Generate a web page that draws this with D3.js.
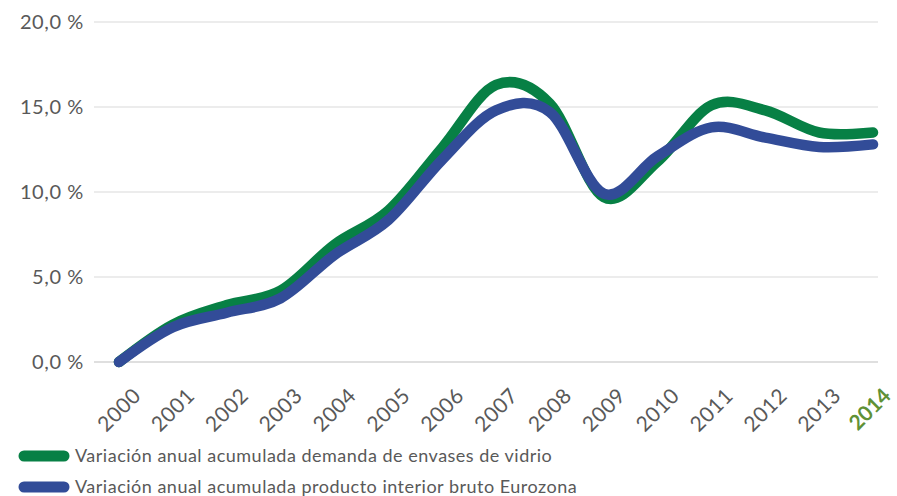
<!DOCTYPE html>
<html>
<head>
<meta charset="utf-8">
<script src="https://cdn.jsdelivr.net/npm/d3@7"></script>
<style>
  body { margin: 0; background: #fff; }
  text { font-family: Lato, "DejaVu Sans", sans-serif; fill: #595959; }
</style>
</head>
<body>
<script>
var width = 897,
    height = 496;

// data
var years = ["2000", "2001", "2002", "2003", "2004", "2005", "2006", "2007",
             "2008", "2009", "2010", "2011", "2012", "2013", "2014"];
var vidrio = [0, 2.2, 3.35, 4.2, 6.9, 8.9, 12.6, 16.3, 15.2, 9.7, 11.8, 15.1, 14.8, 13.5, 13.5];
var pib = [0, 2.05, 2.9, 3.75, 6.3, 8.35, 11.9, 14.8, 14.7, 9.9, 12.1, 13.8, 13.2, 12.65, 12.8];
var yTicks = [0, 5, 10, 15, 20];
var legendLabels = ["Variación anual acumulada demanda de envases de vidrio",
                    "Variación anual acumulada producto interior bruto Eurozona"];
var colors = ["#078045", "#324c98"];

var svg = d3.select("body").append("svg")
    .attr("width", width)
    .attr("height", height);

var x = d3.scalePoint()
    .domain(years)
    .range([119, 873]);

var y = d3.scaleLinear()
    .domain([0, 20])
    .range([362, 22]);

// gridlines
svg.append("g")
    .selectAll("line")
    .data(yTicks)
    .enter().append("line")
        .attr("x1", 94)
        .attr("x2", 878)
        .attr("y1", function(d) { return y(d); })
        .attr("y2", function(d) { return y(d); })
        .attr("stroke", function(d) { return d === 0 ? "#bfbfbf" : "#d9d9d9"; })
        .attr("stroke-width", 1.2);

// y labels
svg.append("g")
    .selectAll("text")
    .data(yTicks)
    .enter().append("text")
        .attr("x", 84)
        .attr("y", function(d) { return y(d) + 7; })
        .attr("text-anchor", "end")
        .style("font-size", "20px")
        .style("letter-spacing", "0.6px")
        .text(function(d) { return d3.format(".1f")(d).replace(".", ",") + " %"; });

// x labels, last year highlighted
svg.append("g")
    .selectAll("text")
    .data(years)
    .enter().append("text")
        .attr("transform", function(d) {
            var dx = d === "2014" ? 8 : 12;
            return "translate(" + (x(d) + dx) + ",386) rotate(-45)";
        })
        .attr("text-anchor", "end")
        .attr("dy", "0.75em")
        .style("font-size", "21px")
        .style("letter-spacing", function(d) { return d === "2014" ? "0px" : "0.5px"; })
        .style("font-weight", function(d) { return d === "2014" ? "bold" : "normal"; })
        .style("fill", function(d) { return d === "2014" ? "#5f9136" : "#595959"; })
        .text(function(d) { return d; });

var line = d3.line()
    .x(function(d, i) { return x(years[i]); })
    .y(function(d) { return y(d); })
    .curve(d3.curveCatmullRom.alpha(0));

svg.selectAll(".serie")
    .data([vidrio, pib])
    .enter().append("path")
        .attr("class", "serie")
        .attr("d", line)
        .attr("fill", "none")
        .attr("stroke", function(d, i) { return colors[i]; })
        .attr("stroke-width", 10.5)
        .attr("stroke-linecap", "round")
        .attr("stroke-linejoin", "round");

// legend
var legend = svg.selectAll(".legend")
    .data(legendLabels)
    .enter().append("g")
        .attr("class", "legend")
        .attr("transform", function(d, i) { return "translate(0," + (456 + i * 31) + ")"; });

legend.append("line")
    .attr("x1", 24)
    .attr("x2", 64)
    .attr("stroke", function(d, i) { return colors[i]; })
    .attr("stroke-width", 11)
    .attr("stroke-linecap", "round");

legend.append("text")
    .attr("x", 75)
    .attr("y", 6)
    .style("font-size", "18px")
    .style("letter-spacing", "0.5px")
    .text(function(d) { return d; });
</script>
</body>
</html>
